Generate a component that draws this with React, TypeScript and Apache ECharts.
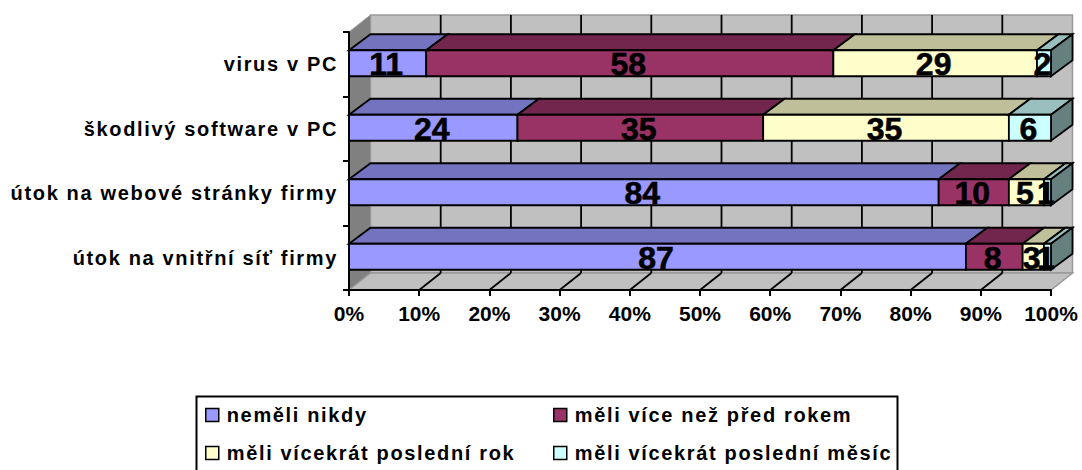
import React, { useEffect, useRef } from "react";
import * as echarts from "echarts";

const categories = ["virus v PC", "škodlivý software v PC", "útok na webové stránky firmy", "útok na vnitřní síť firmy"];
const seriesNames = ["neměli nikdy", "měli více než před rokem", "měli vícekrát poslední rok", "měli vícekrát poslední měsíc"];
const neveru = [11, 24, 84, 87];
const moreThanLastYear = [58, 35, 10, 8];
const severalLastYear = [29, 35, 5, 3];
const severalLastMonth = [2, 6, 1, 1];
const seriesValues = [neveru, moreThanLastYear, severalLastYear, severalLastMonth];
const faceColors = ["#9999FF", "#993366", "#FFFFCC", "#CCFFFF"];
const topColors = ["#7373BF", "#73264D", "#BFBF99", "#99BFBF"];
const sideColor = "#668080";
const ticks = [0, 10, 20, 30, 40, 50, 60, 70, 80, 90, 100];

const DX = 21.5;
const DY = 17;
const BAR_H = 26;
const LW = 1.8;

export default function App() {
  const ref = useRef<HTMLDivElement>(null);
  useEffect(() => {
    const chart = echarts.init(ref.current!, null, { renderer: "svg" });
    const font = "'Liberation Sans', Arial, sans-serif";

    const walls = {
      type: "custom",
      name: "walls",
      silent: true,
      z: 1,
      data: [[0]],
      encode: { x: 0 },
      renderItem: (_p: any, api: any) => {
        const band = api.size([0, 1])[1];
        const x0 = api.coord([0, 0])[0];
        const x1 = api.coord([100, 0])[0];
        const yTop = api.coord([0, 0])[1] - band / 2;
        const yBottom = api.coord([0, 3])[1] + band / 2;
        const children: any[] = [
          { type: "rect", shape: { x: x0 + DX, y: yTop - DY, width: x1 - x0, height: yBottom - yTop }, style: { fill: "#C0C0C0", stroke: "#999", lineWidth: 1.5 } },
          { type: "polygon", shape: { points: [[x0, yTop], [x0 + DX, yTop - DY], [x0 + DX, yBottom - DY], [x0, yBottom]] }, style: { fill: "#808080", stroke: "#999", lineWidth: 1 } },
          { type: "polygon", shape: { points: [[x0, yBottom], [x0 + DX, yBottom - DY], [x1 + DX, yBottom - DY], [x1, yBottom]] }, style: { fill: "#C0C0C0", stroke: "#999", lineWidth: 1.5 } },
        ];
        ticks.forEach((t) => {
          if (t === 0 || t === 100) return;
          const x = api.coord([t, 0])[0];
          children.push({ type: "line", shape: { x1: x + DX, y1: yTop - DY, x2: x + DX, y2: yBottom - DY }, style: { stroke: "#000", lineWidth: LW } });
          children.push({ type: "line", shape: { x1: x, y1: yBottom, x2: x + DX, y2: yBottom - DY }, style: { stroke: "#000", lineWidth: LW } });
        });
        return { type: "group", children };
      },
    };

    const barSeries = seriesNames.map((name, si) => {
      const data = categories.map((_c, ci) => {
        const total = seriesValues.reduce((s, v) => s + v[ci], 0);
        let before = 0;
        for (let k = 0; k < si; k++) before += seriesValues[k][ci];
        return [(before / total) * 100, ((before + seriesValues[si][ci]) / total) * 100, ci, seriesValues[si][ci]];
      });
      return {
        type: "custom",
        name,
        z: 3 + si,
        itemStyle: { color: faceColors[si] },
        data,
        encode: { x: [0, 1], y: 2 },
        renderItem: (_p: any, api: any) => {
          const start = api.coord([api.value(0), api.value(2)]);
          const end = api.coord([api.value(1), api.value(2)]);
          const top = start[1] - BAR_H / 2 - 1;
          const bottom = top + BAR_H;
          const xa = start[0];
          const xb = end[0];
          const stroke = { stroke: "#000", lineWidth: LW };
          const children: any[] = [
            { type: "polygon", shape: { points: [[xa, top], [xa + DX, top - DY + 1], [xb + DX, top - DY + 1], [xb, top]] }, style: { fill: topColors[si], ...stroke } },
          ];
          if (si === seriesNames.length - 1) {
            children.push({ type: "polygon", shape: { points: [[xb, top], [xb + DX, top - DY + 1], [xb + DX, bottom - DY + 1], [xb, bottom]] }, style: { fill: sideColor, ...stroke } });
          }
          children.push({ type: "rect", shape: { x: xa, y: top, width: xb - xa, height: BAR_H }, style: { fill: faceColors[si], ...stroke } });
          children.push({
            type: "text",
            style: {
              text: String(api.value(3)),
              x: (xa + xb) / 2 - 1.5,
              y: top + BAR_H / 2 + 1,
              align: "center",
              verticalAlign: "middle",
              font: `bold 32px ${font}`,
              fill: "#000",
              stroke: "#000",
              lineWidth: 0.6,
            },
          });
          return { type: "group", children };
        },
      };
    });

    const legendBase = {
      orient: "vertical" as const,
      top: 405,
      height: 64,
      padding: 0,
      itemWidth: 13,
      itemHeight: 13,
      itemGap: 18,
      icon: "rect",
      selectedMode: false,
      itemStyle: { borderColor: "#000", borderWidth: 1.5 },
      textStyle: { fontFamily: font, fontWeight: "bold" as const, fontSize: 20, color: "#000", padding: [0, 0, 0, 3] },
    };

    chart.setOption({
      animation: false,
      backgroundColor: "#fff",
      grid: { left: 349, top: 32, width: 702, height: 258, containLabel: false },
      xAxis: {
        type: "value",
        min: 0,
        max: 100,
        interval: 10,
        z: 8,
        axisLine: { show: true, lineStyle: { color: "#000", width: 2 } },
        axisTick: { show: true, length: 6, lineStyle: { color: "#000", width: 2 } },
        splitLine: { show: false },
        axisLabel: { formatter: "{value}%", margin: 13, fontFamily: font, fontWeight: "bold", fontSize: 21, color: "#000", hideOverlap: false },
      },
      yAxis: {
        type: "category",
        inverse: true,
        data: categories,
        z: 8,
        axisLine: { show: true, lineStyle: { color: "#000", width: 2 } },
        axisTick: { show: true, length: 6, lineStyle: { color: "#000", width: 2 } },
        axisLabel: { margin: 11, fontFamily: font, fontWeight: "bold", fontSize: 20, color: "#000", interval: 0 },
      },
      legend: [
        { ...legendBase, left: 205, data: [seriesNames[0], seriesNames[2]] },
        { ...legendBase, left: 553, data: [seriesNames[1], seriesNames[3]] },
      ],
      graphic: [
        { type: "rect", z: 0, shape: { x: 196.5, y: 396.5, width: 701, height: 90 }, style: { fill: "#fff", stroke: "#000", lineWidth: 2 } },
      ],
      series: [walls, ...barSeries],
    });
    const svg = ref.current!.querySelector("svg");
    if (svg) {
      svg.querySelectorAll("text").forEach((t) => {
        const s = (t.getAttribute("style") || "") + (t.getAttribute("font-size") || "");
        if (/\b20px/.test(s)) t.style.letterSpacing = "1.65px";
      });
    }
    return () => chart.dispose();
  }, []);
  return <div ref={ref} style={{ position: "fixed", left: 0, top: 0, width: 1082, height: 470 }} />;
}
